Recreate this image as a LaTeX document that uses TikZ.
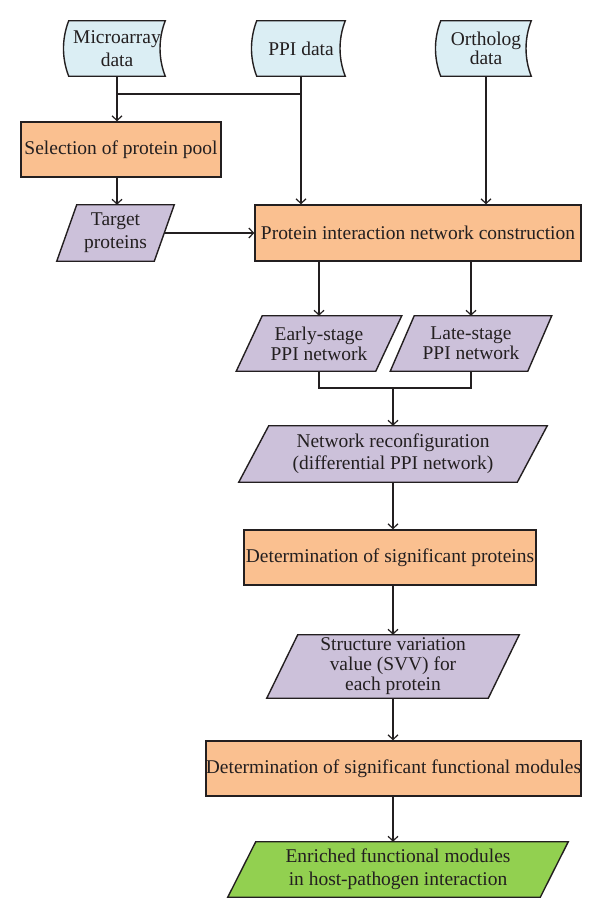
\documentclass[tikz,border=0pt]{standalone}
\usepackage{fontspec}
\setmainfont{Liberation Serif}
\usetikzlibrary{arrows.meta,calc,backgrounds}
\definecolor{databg}{RGB}{219,238,244}
\definecolor{procbg}{RGB}{250,192,144}
\definecolor{iobg}{RGB}{204,193,218}
\definecolor{endbg}{RGB}{146,208,80}
\definecolor{ink}{RGB}{35,31,32}
\tikzset{
  lbl/.style={inner sep=0pt, align=center, text=ink, font=\fontsize{14.6}{17}\selectfont},
  outline/.style={draw=ink, line width=1.05pt},
  procbox/.style={lbl, outline, fill=procbg},
  conn/.style={draw=ink, line width=0.9pt},
  arr/.style={conn, -{Straight Barb[length=3.5pt,width=7.5pt]}}
}
\begin{document}
\begin{tikzpicture}[x=0.75pt,y=-0.75pt]
\useasboundingbox (0,0) rectangle (600,918);

\node[lbl, minimum width=72pt, minimum height=41.25pt] (micro) at (117,48.5) {Microarray\\data};
\node[lbl, minimum width=66pt, minimum height=41.25pt] (ppi) at (301,48.5) {PPI data};
\node[lbl, minimum width=67.5pt, minimum height=41.25pt, font=\fontsize{14.6}{11.5}\selectfont] (orth) at (486,48.5) {Ortholog\\data};
\node[procbox, minimum width=150pt, minimum height=41.25pt] (sel) at (121,149.5) {Selection of protein pool};
\node[lbl, minimum width=72.75pt, minimum height=42pt] (target) at (115.5,233) {Target\\proteins};
\node[procbox, minimum width=244.5pt, minimum height=42pt] (prot) at (418,233) {Protein interaction network construction};
\node[lbl, minimum width=104.25pt, minimum height=41.25pt, font=\fontsize{14.6}{15}\selectfont] (early) at (319,343.5) {Early-stage\\PPI network};
\node[lbl, minimum width=102.75pt, minimum height=41.25pt, font=\fontsize{14.6}{15}\selectfont] (late) at (471,343.5) {Late-stage\\PPI network};
\node[lbl, minimum width=208.5pt, minimum height=42pt, font=\fontsize{14.6}{16.5}\selectfont] (reconf) at (393,454) {Network reconfiguration\\(differential PPI network)};
\node[procbox, minimum width=219pt, minimum height=41.25pt] (detp) at (390,557.5) {Determination of significant proteins};
\node[lbl, minimum width=165.75pt, minimum height=47.25pt, font=\fontsize{14.6}{15}\selectfont] (svv) at (393,666.5) {Structure variation\\value (SVV) for\\each protein};
\node[procbox, minimum width=279.75pt, minimum height=41.25pt] (detf) at (393.5,768.5) {Determination of significant functional modules};
\node[lbl, minimum width=234pt, minimum height=41.25pt] (enr) at (398,869.5) {Enriched functional modules\\in host-pathogen interaction};

\begin{scope}[on background layer]
  \fill[white] (0,0) rectangle (600,918);
  \foreach \n in {micro,ppi,orth} {
    \filldraw[outline, fill=databg] (\n.north west) -- (\n.north east)
      .. controls ($(\n.north east)+(-7,18)$) and ($(\n.south east)+(-7,-18)$) .. (\n.south east)
      -- (\n.south west)
      .. controls ($(\n.south west)+(-7,-18)$) and ($(\n.north west)+(-7,18)$) .. (\n.north west) -- cycle;
  }
  \foreach \n/\s/\c in {target/10/iobg, early/13/iobg, late/12/iobg, reconf/15/iobg, svv/15.5/iobg, enr/14/endbg} {
    \filldraw[outline, fill=\c] ($(\n.north west)+(\s,0)$) -- ($(\n.north east)+(\s,0)$)
      -- ($(\n.south east)+(-\s,0)$) -- ($(\n.south west)+(-\s,0)$) -- cycle;
  }
\end{scope}

\coordinate (hy) at (0,94);
\coordinate (hy2) at (0,388);
\draw[arr] (micro.south) -- (micro.south |- sel.north);
\draw[conn] (ppi.south |- hy) -- (micro.south |- hy);
\draw[arr] (ppi.south) -- (ppi.south |- prot.north);
\draw[arr] (orth.south) -- (orth.south |- prot.north);
\draw[arr] (micro.south |- sel.south) -- (micro.south |- target.north);
\draw[arr] (target.east) -- (target.east -| prot.west);
\draw[arr] (early.north |- prot.south) -- (early.north);
\draw[arr] (late.north |- prot.south) -- (late.north);
\draw[conn] (early.south) -- (early.south |- hy2) -- (late.south |- hy2) -- (late.south);
\draw[arr] (reconf.north |- hy2) -- (reconf.north);
\draw[arr] (reconf.south) -- (reconf.south |- detp.north);
\draw[arr] (reconf.south |- detp.south) -- (svv.north);
\draw[arr] (svv.south) -- (svv.south |- detf.north);
\draw[arr] (svv.south |- detf.south) -- (svv.south |- enr.north);
\end{tikzpicture}
\end{document}
